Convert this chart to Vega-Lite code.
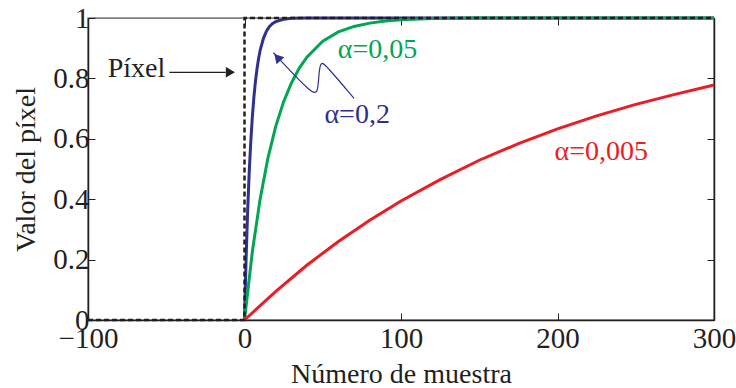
{
  "$schema": "https://vega.github.io/schema/vega-lite/v6.json",
  "width": 626,
  "height": 302,
  "autosize": {"type": "none"},
  "padding": {"left": 88, "top": 18, "right": 22, "bottom": 68},
  "background": "white",
  "config": {
    "font": "Liberation Serif",
    "view": {"stroke": "#808080", "strokeWidth": 1.5},
    "axis": {"grid": false, "labelFont": "Liberation Serif", "titleFont": "Liberation Serif", "labelFontSize": 29, "titleFontSize": 28, "labelColor": "#231f20", "titleColor": "#231f20", "titleFontWeight": "normal", "domainColor": "#231f20", "tickColor": "#231f20", "tickSize": -7, "labelOverlap": false, "labelFlush": false, "labelBound": false}
  },
  "datasets": {
    "curves": [
      {"s": "a02", "n": 0, "v": 0}, {"s": "a02", "n": 1, "v": 0.2}, {"s": "a02", "n": 2, "v": 0.36}, {"s": "a02", "n": 3, "v": 0.488}, {"s": "a02", "n": 4, "v": 0.59}, {"s": "a02", "n": 5, "v": 0.672}, {"s": "a02", "n": 6, "v": 0.738}, {"s": "a02", "n": 7, "v": 0.79}, {"s": "a02", "n": 8, "v": 0.832}, {"s": "a02", "n": 9, "v": 0.866}, {"s": "a02", "n": 10, "v": 0.893}, {"s": "a02", "n": 12, "v": 0.931}, {"s": "a02", "n": 14, "v": 0.956}, {"s": "a02", "n": 16, "v": 0.972}, {"s": "a02", "n": 18, "v": 0.982}, {"s": "a02", "n": 20, "v": 0.988}, {"s": "a02", "n": 25, "v": 0.996}, {"s": "a02", "n": 30, "v": 0.999}, {"s": "a02", "n": 40, "v": 1}, {"s": "a02", "n": 300, "v": 1},
      {"s": "a005", "n": 0, "v": 0}, {"s": "a005", "n": 5, "v": 0.226}, {"s": "a005", "n": 10, "v": 0.401}, {"s": "a005", "n": 15, "v": 0.537}, {"s": "a005", "n": 20, "v": 0.642}, {"s": "a005", "n": 25, "v": 0.723}, {"s": "a005", "n": 30, "v": 0.785}, {"s": "a005", "n": 35, "v": 0.834}, {"s": "a005", "n": 40, "v": 0.871}, {"s": "a005", "n": 50, "v": 0.923}, {"s": "a005", "n": 60, "v": 0.954}, {"s": "a005", "n": 70, "v": 0.972}, {"s": "a005", "n": 80, "v": 0.983}, {"s": "a005", "n": 90, "v": 0.99}, {"s": "a005", "n": 100, "v": 0.994}, {"s": "a005", "n": 120, "v": 0.998}, {"s": "a005", "n": 150, "v": 1}, {"s": "a005", "n": 300, "v": 1},
      {"s": "a0005", "n": 0, "v": 0}, {"s": "a0005", "n": 20, "v": 0.095}, {"s": "a0005", "n": 40, "v": 0.182}, {"s": "a0005", "n": 60, "v": 0.26}, {"s": "a0005", "n": 80, "v": 0.33}, {"s": "a0005", "n": 100, "v": 0.394}, {"s": "a0005", "n": 125, "v": 0.465}, {"s": "a0005", "n": 150, "v": 0.529}, {"s": "a0005", "n": 175, "v": 0.584}, {"s": "a0005", "n": 200, "v": 0.633}, {"s": "a0005", "n": 225, "v": 0.676}, {"s": "a0005", "n": 250, "v": 0.714}, {"s": "a0005", "n": 275, "v": 0.747}, {"s": "a0005", "n": 300, "v": 0.778}
    ],
    "pixel": [
      {"o": 1, "n": -100, "v": 0}, {"o": 2, "n": 0, "v": 0}, {"o": 3, "n": 0, "v": 1}, {"o": 4, "n": 300, "v": 1}
    ],
    "labels": [
      {"s": "a02", "t": "α=0,2", "n": 72, "v": 0.678},
      {"s": "a005", "t": "α=0,05", "n": 85, "v": 0.893},
      {"s": "a0005", "t": "α=0,005", "n": 228, "v": 0.555},
      {"s": "pix", "t": "Píxel", "n": -69, "v": 0.83}
    ],
    "wiggle": [
      {"o": 1, "n": 18.5, "v": 0.885}, {"o": 2, "n": 43.8, "v": 0.744}, {"o": 3, "n": 47.0, "v": 0.754}, {"o": 4, "n": 47.6, "v": 0.826}, {"o": 5, "n": 48.9, "v": 0.856}, {"o": 6, "n": 52.1, "v": 0.843}, {"o": 7, "n": 70.0, "v": 0.734}
    ],
    "heads": [
      {"s": "a02", "n": 21, "v": 0.87, "a": 318},
      {"s": "pix", "n": -9, "v": 0.82, "a": 90}
    ],
    "parrow": [{"n": -48, "n2": -12, "v": 0.82}]
  },
  "resolve": {"axis": {"x": "independent", "y": "independent"}},
  "layer": [
    {
      "data": {"name": "curves"},
      "mark": {"type": "line", "strokeWidth": 3},
      "encoding": {
        "x": {"field": "n", "type": "quantitative", "scale": {"domain": [-100, 300], "nice": false, "zero": false},
          "axis": {"values": [-100, 0, 100, 200, 300], "title": "Número de muestra", "labelExpr": "replace(datum.label, '-', '−')", "labelPadding": 11, "titlePadding": 7, "domainWidth": 1.5}},
        "y": {"field": "v", "type": "quantitative", "scale": {"domain": [0, 1], "nice": false},
          "axis": {"values": [0, 0.2, 0.4, 0.6, 0.8, 1], "format": "~g", "title": "Valor del píxel", "labelPadding": 6, "titlePadding": 12, "domainWidth": 1.5}},
        "color": {"field": "s", "type": "nominal", "legend": null, "scale": {"domain": ["a02", "a005", "a0005", "pix"], "range": ["#2e3192", "#00a651", "#ed1c24", "#231f20"]}}
      }
    },
    {
      "data": {"name": "wiggle"},
      "mark": {"type": "line", "strokeWidth": 1.2, "color": "#2e3192", "interpolate": "basis"},
      "encoding": {
        "x": {"field": "n", "type": "quantitative", "axis": null},
        "y": {"field": "v", "type": "quantitative", "axis": null},
        "order": {"field": "o"}
      }
    },
    {
      "data": {"name": "parrow"},
      "mark": {"type": "rule", "strokeWidth": 1.2, "color": "#231f20"},
      "encoding": {
        "x": {"field": "n", "type": "quantitative", "axis": null},
        "x2": {"field": "n2"},
        "y": {"field": "v", "type": "quantitative", "axis": null}
      }
    },
    {
      "data": {"name": "heads"},
      "mark": {"type": "point", "shape": "triangle-up", "filled": true, "size": 110, "opacity": 1},
      "encoding": {
        "x": {"field": "n", "type": "quantitative", "axis": null},
        "y": {"field": "v", "type": "quantitative", "axis": null},
        "angle": {"field": "a", "type": "quantitative", "scale": null},
        "color": {"field": "s", "type": "nominal", "legend": null}
      }
    },
    {
      "data": {"name": "pixel"},
      "mark": {"type": "line", "strokeWidth": 2.5, "color": "#231f20", "strokeDash": [5, 3]},
      "encoding": {
        "x": {"field": "n", "type": "quantitative", "axis": null},
        "y": {"field": "v", "type": "quantitative", "axis": null},
        "order": {"field": "o"}
      }
    },
    {
      "data": {"name": "labels"},
      "mark": {"type": "text", "fontSize": 28, "font": "Liberation Serif", "baseline": "middle", "align": "center"},
      "encoding": {
        "x": {"field": "n", "type": "quantitative", "axis": null},
        "y": {"field": "v", "type": "quantitative", "axis": null},
        "text": {"field": "t"},
        "color": {"field": "s", "type": "nominal", "legend": null}
      }
    },
    {
      "data": {"name": "pixel"},
      "mark": {"type": "point", "opacity": 0},
      "encoding": {
        "x": {"field": "n", "type": "quantitative", "axis": {"orient": "top", "values": [-100, 0, 100, 200, 300], "labels": false, "title": null, "domainColor": "#808080"}},
        "y": {"field": "v", "type": "quantitative", "axis": {"orient": "right", "values": [0, 0.2, 0.4, 0.6, 0.8, 1], "labels": false, "title": null, "domainWidth": 1.5}}
      }
    }
  ]
}
